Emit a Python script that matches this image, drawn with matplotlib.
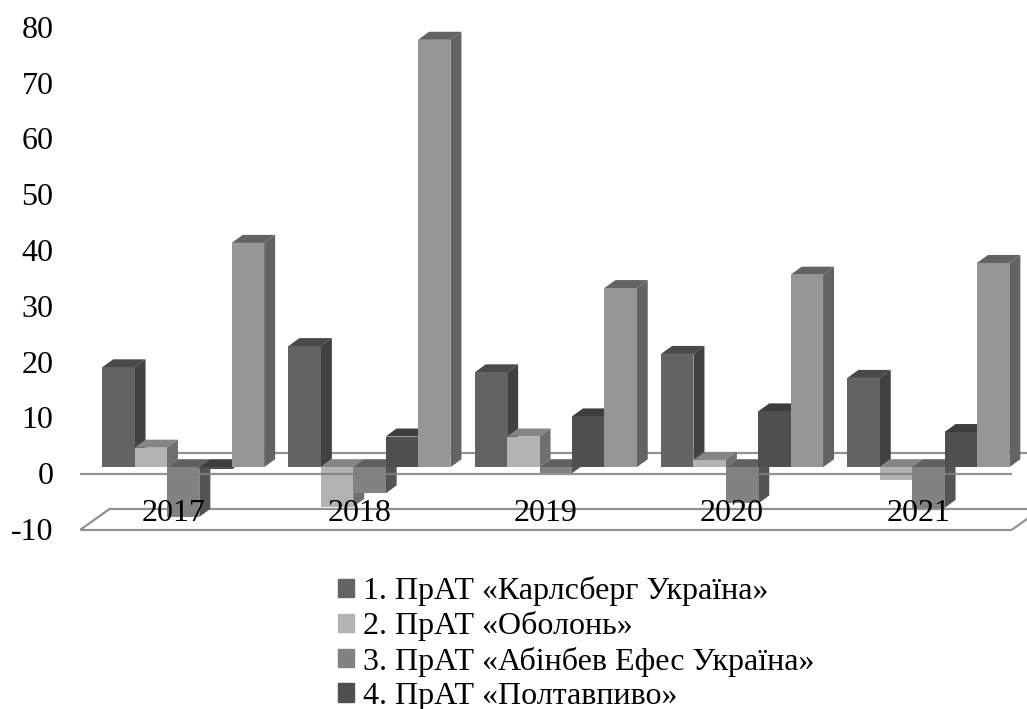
import matplotlib
matplotlib.use('Agg')
import matplotlib.pyplot as plt
from matplotlib.patches import Polygon, Patch
from matplotlib.transforms import ScaledTranslation

plt.rcParams['font.family'] = ['Liberation Serif', 'DejaVu Serif']
plt.rcParams['axes.unicode_minus'] = False

years = ['2017', '2018', '2019', '2020', '2021']
y_ticks = [-10, 0, 10, 20, 30, 40, 50, 60, 70, 80]

carlsberg = [17.9, 21.7, 17.0, 20.3, 16.0]
obolon = [3.5, -7.1, 5.5, 1.3, -2.3]
abinbev = [-8.9, -4.7, -1.1, -6.5, -7.3]
poltava = [-0.4, 5.5, 9.1, 10.0, 6.3]
other = [40.2, 76.6, 32.1, 34.5, 36.6]

series = [carlsberg, obolon, abinbev, poltava, other]
names = ['1. ПрАТ «Карлсберг Україна»', '2. ПрАТ «Оболонь»',
         '3. ПрАТ «Абінбев Ефес Україна»', '4. ПрАТ «Полтавпиво»']

# front, top, side shades of each series
shades = [('#636363', '#4a4a4a', '#414141'),
          ('#b3b3b3', '#858585', '#6f6f6f'),
          ('#828282', '#606060', '#545454'),
          ('#4f4f4f', '#3d3d3d', '#3a3a3a'),
          ('#969696', '#636363', '#636363')]
line_color = '#929292'

W, H = 1027, 709
band_px = 186.3
unit_px = 5.58
left_px, right_px = 80, 1027
bottom_px, top_px = 530, 530 - 90 * unit_px

bar_w = 32.4 / band_px
bar_dx = 11 / band_px
bar_dy = 8 / unit_px
base = 7 / unit_px        # bars stand behind the front edge of the floor
shift = 10 / band_px
floor_dx = 29.5 / band_px
floor_dy = 21 / unit_px

fig = plt.figure(figsize=(W / 100, H / 100), dpi=100)
ax = fig.add_axes([left_px / W, 1 - bottom_px / H,
                   (right_px - left_px) / W, (bottom_px - top_px) / H])
ax.set_xlim(-0.5, -0.5 + (right_px - left_px) / band_px)
ax.set_ylim(-10, 80)
for s in ax.spines.values():
    s.set_visible(False)

x0, x1 = -0.5, 4.5
for level in (0, -10):
    ax.plot([x0 + floor_dx, x1 + floor_dx], [level + floor_dy, level + floor_dy],
            color=line_color, lw=1.6, zorder=1, clip_on=True, solid_capstyle='butt')
ax.plot([x0, x0 + floor_dx], [-10, -10 + floor_dy], color=line_color, lw=1.6, zorder=1)
ax.plot([x1, x1 + floor_dx], [-10, -10 + floor_dy], color=line_color, lw=1.6, zorder=1)
ax.plot([x0, x1], [-10, -10], color=line_color, lw=1.6, zorder=1, clip_on=False,
        solid_capstyle='butt')

z = 2
for i in range(len(years)):
    for k, vals in enumerate(series):
        v = vals[i]
        left = i + shift + (k - 2.5) * bar_w
        right = left + bar_w
        front, top, side = shades[k]
        up = base + max(v, 0)
        down = base + min(v, 0)
        ax.add_patch(Polygon([(left, up), (left + bar_dx, up + bar_dy),
                              (right + bar_dx, up + bar_dy), (right, up)],
                             fc=top, ec='none', zorder=z))
        ax.add_patch(Polygon([(right, up), (right + bar_dx, up + bar_dy),
                              (right + bar_dx, down + bar_dy), (right, down)],
                             fc=side, ec='none', zorder=z))
        ax.bar(left, v, bar_w, bottom=base, align='edge', color=front, zorder=z)
        z += 1

ax.plot([x0, x1], [0, 0], color='#808080', lw=1.6, alpha=0.85, zorder=z, solid_capstyle='butt')

for i, year in enumerate(years):
    ax.text(i, -7, year, ha='center', va='center', fontsize=23, color='black', zorder=z + 1)

ax.set_xticks([])
ax.set_yticks(y_ticks)
ax.tick_params(axis='y', length=0, pad=19, labelsize=23, labelcolor='black')
for lbl in ax.get_yticklabels():
    lbl.set_transform(lbl.get_transform() + ScaledTranslation(0, 0.72 / 72, fig.dpi_scale_trans))

handles = [Patch(color=shades[k][0], label=names[k]) for k in range(4)]
fig.legend(handles=handles, loc='upper left', bbox_to_anchor=(338 / W, 1 - 576 / H),
           bbox_transform=fig.transFigure, frameon=False, fontsize=23,
           handlelength=0.5, handleheight=0.5, handletextpad=0.28,
           labelspacing=0.165, borderpad=0, borderaxespad=0)

fig.savefig('out.png', dpi=100)
